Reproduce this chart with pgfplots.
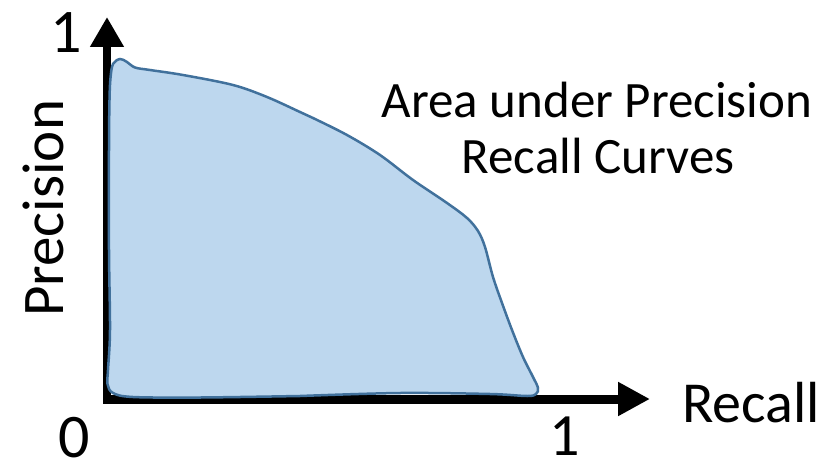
\documentclass[border=0pt]{standalone}
\usepackage{pgfplots}
\pgfplotsset{compat=1.18}
\usepackage{fontspec}
\setmainfont{Carlito}
\usetikzlibrary{arrows.meta}
\definecolor{blobfill}{HTML}{BDD7EE}
\definecolor{blobedge}{HTML}{41719C}
\begin{document}
\begin{tikzpicture}
\begin{axis}[
  scale only axis, width=831bp, height=472bp,
  xmin=0, xmax=831, ymin=0, ymax=472, y dir=reverse,
  hide axis, clip=false,
]
% axes with arrows
\addplot[black, line width=7.5bp, -{Triangle[width=32bp,length=30bp]}] coordinates {(107,403) (107,17)};
\addplot[black, line width=9bp, -{Triangle[width=32bp,length=32bp]}] coordinates {(103,399) (650,399)};
% area blob
\addplot[smooth, tension=0.55, fill=blobfill, draw=blobedge, line width=2.5bp] coordinates {
(300,396) (200,397.5) (133,397) (113,393) (107.5,384) (108,370) (110,330) (109,250) (109,150)
(109.5,100) (110.5,78) (113,64) (120,59) (127,62) (135,67.5) (150,70) (183,75) (233,85)
(267,97) (300,112) (313,118) (347,135) (380,155) (413,180) (447,203) (467,218) (478,231)
(485,247) (493,277) (502,303) (512,330) (523,357) (533,377) (538,388) (536,394) (527,396)
(490,394) (400,393) (300,396)};
\node[anchor=base, inner sep=0pt, font=\fontsize{51bp}{56bp}\selectfont] at (axis cs:597,117) {Area under Precision};
\node[anchor=base, inner sep=0pt, font=\fontsize{51bp}{56bp}\selectfont] at (axis cs:598,173) {Recall Curves};
\node[anchor=base west, inner sep=0pt, font=\fontsize{58bp}{64bp}\selectfont] at (axis cs:682,422) {Recall};
\node[anchor=base west, rotate=90, inner sep=0pt, font=\fontsize{59bp}{64bp}\selectfont] at (axis cs:63,317) {Precision};
\node[anchor=base, inner sep=0pt, font=\fontsize{62bp}{68bp}\selectfont] at (axis cs:66,53) {1};
\node[anchor=base, inner sep=0pt, font=\fontsize{62bp}{68bp}\selectfont] at (axis cs:74,457) {0};
\node[anchor=base, inner sep=0pt, font=\fontsize{60bp}{68bp}\selectfont] at (axis cs:565,455) {1};
\end{axis}
\pgfresetboundingbox
\path (0,0) rectangle (831bp,472bp);
\end{tikzpicture}
\end{document}
